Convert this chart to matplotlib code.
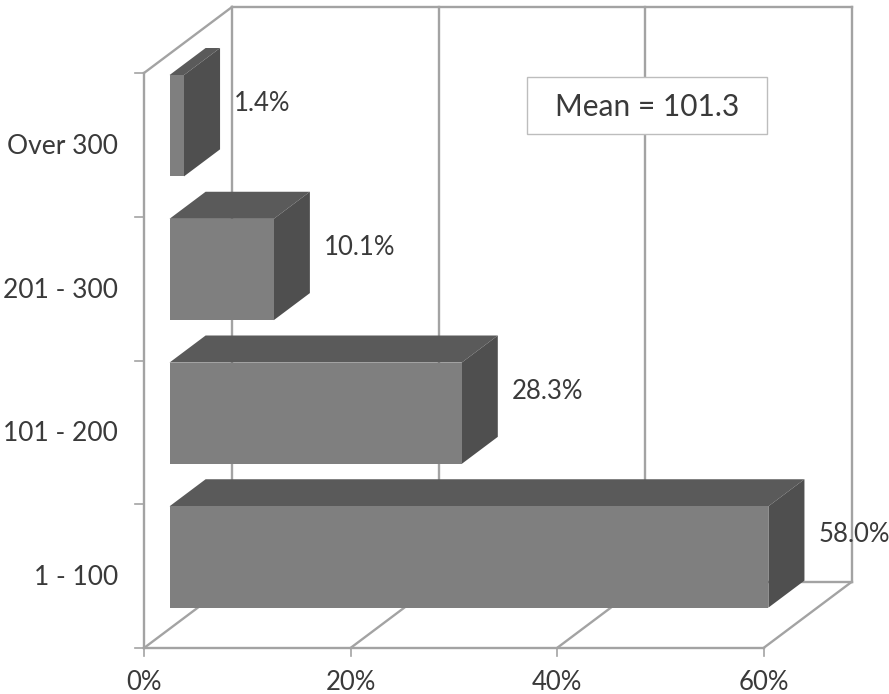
import matplotlib
matplotlib.use('Agg')
import matplotlib.pyplot as plt
from matplotlib.patches import Rectangle

categorias = ['1 - 100', '101 - 200', '201 - 300', 'Over 300']
porcentajes = [58.0, 28.3, 10.1, 1.4]
etiquetas = ['58.0%', '28.3%', '10.1%', '1.4%']
ticks_x = [0, 20, 40, 60]
ticks_x_txt = ['0%', '20%', '40%', '60%']
nota = 'Mean = 101.3'

ANCHO, ALTO = 889, 694
PX_X = 10.325    # pixeles por punto porcentual
PX_Y = 143.75    # pixeles por categoria
ORIG_X, ORIG_Y = 144, 648
FONDO_X = 88 / PX_X   # desplazamiento de la pared del fondo
FONDO_Y = 66 / PX_Y
GRIS_EJE = '#a3a3a3'
GRIS_TXT = '#3a3a3a'
FUENTE = 'Lato'


def proy(x, y, z=0.0):
    """Pasa (porcentaje, categoria, profundidad) a coordenadas del eje."""
    return x + z * FONDO_X, y + z * FONDO_Y


def linea(ax, a, b, lw=1.7, color=GRIS_EJE, zorder=1):
    ax.plot([a[0], b[0]], [a[1], b[1]], color=color, lw=lw, zorder=zorder,
            solid_capstyle='projecting')


def barra(ax, y, valor, alto=0.705, z0=0.29, z1=0.70):
    abajo, arriba = y - alto / 2, y + alto / 2
    frente = [proy(0, abajo, z0), proy(valor, abajo, z0), proy(valor, arriba, z0), proy(0, arriba, z0)]
    techo = [proy(0, arriba, z0), proy(valor, arriba, z0), proy(valor, arriba, z1), proy(0, arriba, z1)]
    lado = [proy(valor, abajo, z0), proy(valor, abajo, z1), proy(valor, arriba, z1), proy(valor, arriba, z0)]
    ax.fill(*zip(*techo), color='#5a5a5a', lw=0, zorder=3)
    ax.fill(*zip(*lado), color='#4f4f4f', lw=0, zorder=3)
    ax.fill(*zip(*frente), color='#7f7f7f', lw=0, zorder=3)


fig = plt.figure(figsize=(ANCHO / 100, ALTO / 100), dpi=100)
ax = fig.add_axes([0, 0, 1, 1])
ax.set_xlim(-ORIG_X / PX_X, (ANCHO - ORIG_X) / PX_X)
ax.set_ylim((ORIG_Y - ALTO) / PX_Y, ORIG_Y / PX_Y)
ax.axis('off')

n = len(categorias)
xmax = ticks_x[-1]

# paredes y piso
linea(ax, proy(0, 0), proy(0, n))
linea(ax, proy(0, 0), proy(xmax, 0))
linea(ax, proy(0, n), proy(0, n, 1))
linea(ax, proy(0, n, 1), proy(xmax, n, 1))
linea(ax, proy(0, 0, 1), proy(xmax, 0, 1))
for t, t_txt in zip(ticks_x, ticks_x_txt):
    linea(ax, proy(t, 0), proy(t, 0, 1))
    linea(ax, proy(t, 0, 1), proy(t, n, 1))
    ax.plot([t, t], [0, -8 / PX_Y], color=GRIS_EJE, lw=1.2, zorder=1)
    ax.text(t, -34 / PX_Y, t_txt, ha='center', va='center',
            fontsize=18.5, family=FUENTE, color=GRIS_TXT)

for i in range(n + 1):
    ax.plot([-9 / PX_X, 0], [i, i], color=GRIS_EJE, lw=1.2, zorder=1)

# barras y etiquetas
for i, (cat, val, txt) in enumerate(zip(categorias, porcentajes, etiquetas)):
    y = i + 0.5
    barra(ax, y, val)
    ax.text(-26 / PX_X, y - 1.5 / PX_Y, cat, ha='right', va='center', fontsize=19,
            family=FUENTE, color=GRIS_TXT)
    fx, fy = proy(val, y, 0.70)
    ax.text(fx + 14 / PX_X, fy - 5 / PX_Y, txt, ha='left', va='center', fontsize=18.5,
            family=FUENTE, color=GRIS_TXT, zorder=5)

# caja de la media
ax.add_patch(Rectangle((37.1, 3.576), 23.2, 0.397, fc='white', ec='#bdbdbd', lw=1.0, zorder=6))
ax.text(48.7, 3.763, nota, ha='center', va='center', fontsize=21.5, family=FUENTE,
        color=GRIS_TXT, zorder=7)

fig.savefig('out.png', dpi=100)
plt.close(fig)
